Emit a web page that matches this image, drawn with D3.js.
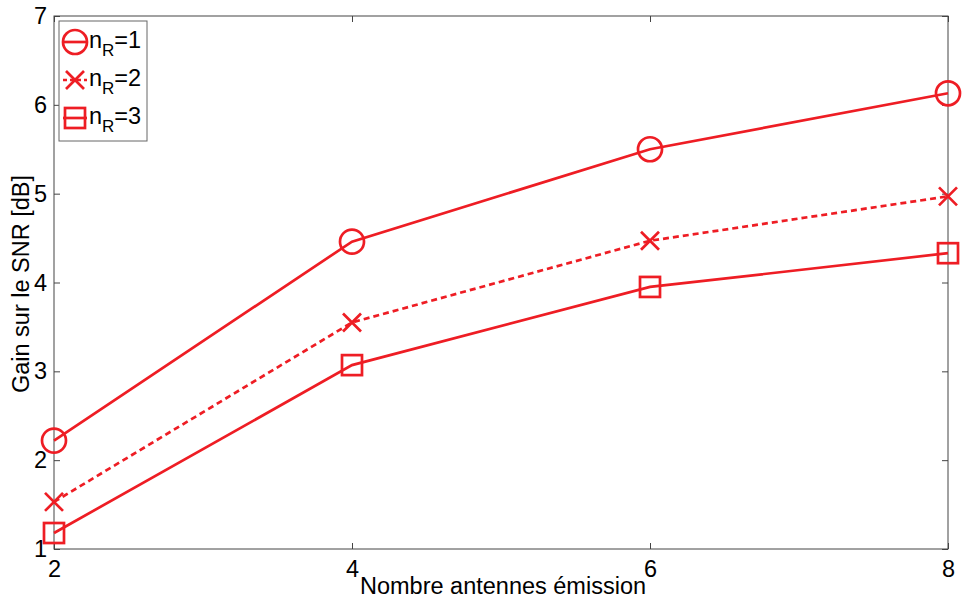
<!DOCTYPE html>
<html><head><meta charset="utf-8">
<script src="https://cdn.jsdelivr.net/npm/d3@7"></script>
<style>body{margin:0;background:#fff}svg{display:block}text{font-family:"Liberation Sans",Arial,sans-serif}</style>
</head><body>
<svg id="c" width="963" height="603"></svg>
<script>
const xValues = [2, 4, 6, 8];
const nR1 = [2.22, 4.46, 5.50, 6.13];
const nR2 = [1.53, 3.55, 4.47, 4.97];
const nR3 = [1.18, 3.07, 3.95, 4.33];
const seriesNames = ["1", "2", "3"];
const xTicks = [2, 4, 6, 8];
const yTicks = [1, 2, 3, 4, 5, 6, 7];

const red = "#ee1d24";
const FS = 23.5;
const svg = d3.select("#c");
const L = 54, R = 948, T = 16, B = 549;
const x = d3.scaleLinear().domain([2, 8]).range([L, R]);
const y = d3.scaleLinear().domain([1, 7]).range([B, T]);

svg.append("rect").attr("x", L).attr("y", T).attr("width", R - L).attr("height", B - T)
  .attr("fill", "none").attr("stroke", "#444").attr("stroke-width", 1);

const axL = d3.axisLeft(y).tickValues(yTicks).tickSize(-6).tickPadding(7).tickFormat(d3.format("d"));
const axR = d3.axisRight(y).tickValues(yTicks).tickSize(-6).tickFormat("");
const axB = d3.axisBottom(x).tickValues(xTicks).tickSize(-6).tickPadding(11).tickFormat(d3.format("d"));
const axT = d3.axisTop(x).tickValues(xTicks).tickSize(-6).tickFormat("");
function style(g){ g.select(".domain").remove(); g.selectAll("line").attr("stroke","#444");
  g.selectAll("text").attr("font-size", FS).attr("fill","#000").attr("font-family","Liberation Sans, Arial, sans-serif"); }
svg.append("g").attr("transform", `translate(${L},0)`).call(axL).call(style);
svg.append("g").attr("transform", `translate(${R},0)`).call(axR).call(style);
svg.append("g").attr("transform", `translate(0,${B})`).call(axB).call(style);
svg.append("g").attr("transform", `translate(0,${T})`).call(axT).call(style);

svg.append("text").attr("x", 503).attr("y", 594).attr("text-anchor", "middle")
  .attr("font-size", FS).text("Nombre antennes émission");
svg.append("text").attr("transform", `translate(29,284) rotate(-90)`).attr("text-anchor", "middle")
  .attr("font-size", FS).text("Gain sur le SNR [dB]");

const series = [
  {name: seriesNames[0], vals: nR1, dash: null, marker: "circle"},
  {name: seriesNames[1], vals: nR2, dash: "6,4", marker: "cross"},
  {name: seriesNames[2], vals: nR3, dash: null, marker: "square"}
];
const line = d3.line().x((d, i) => x(xValues[i])).y(d => y(d));

function drawMarker(g, type, cx, cy) {
  if (type === "circle") {
    g.append("circle").attr("cx", cx).attr("cy", cy).attr("r", 12)
      .attr("fill", "none").attr("stroke", red).attr("stroke-width", 2.7);
  } else if (type === "square") {
    g.append("rect").attr("x", cx - 10).attr("y", cy - 10).attr("width", 20).attr("height", 20)
      .attr("fill", "none").attr("stroke", red).attr("stroke-width", 2.7);
  } else {
    const s = 9;
    g.append("path").attr("d", `M${cx - s},${cy - s}L${cx + s},${cy + s}M${cx - s},${cy + s}L${cx + s},${cy - s}`)
      .attr("stroke", red).attr("stroke-width", 2.7).attr("fill", "none");
  }
}

series.forEach(s => {
  svg.append("path").datum(s.vals).attr("d", line).attr("fill", "none")
    .attr("stroke", red).attr("stroke-width", 2.7).attr("stroke-dasharray", s.dash);
  const g = svg.append("g");
  s.vals.forEach((v, i) => drawMarker(g, s.marker, x(xValues[i]), y(v)));
});

const lg = svg.append("g");
lg.append("rect").attr("x", 59).attr("y", 21).attr("width", 88).attr("height", 120)
  .attr("fill", "#fff").attr("stroke", "#666").attr("stroke-width", 1);
series.forEach((s, i) => {
  const ly = 42 + i * 38;
  lg.append("line").attr("x1", 63).attr("x2", 87).attr("y1", ly).attr("y2", ly)
    .attr("stroke", red).attr("stroke-width", 2.7).attr("stroke-dasharray", s.dash ? "4,3" : null);
  drawMarker(lg, s.marker, 75, ly);
  const t = lg.append("text").attr("x", 89).attr("y", ly + 6).attr("font-size", FS).attr("fill", "#000");
  t.append("tspan").text("n");
  t.append("tspan").attr("dy", 8).attr("font-size", 17).text("R");
  t.append("tspan").attr("dy", -8).text("=" + s.name);
});
</script>
</body></html>
